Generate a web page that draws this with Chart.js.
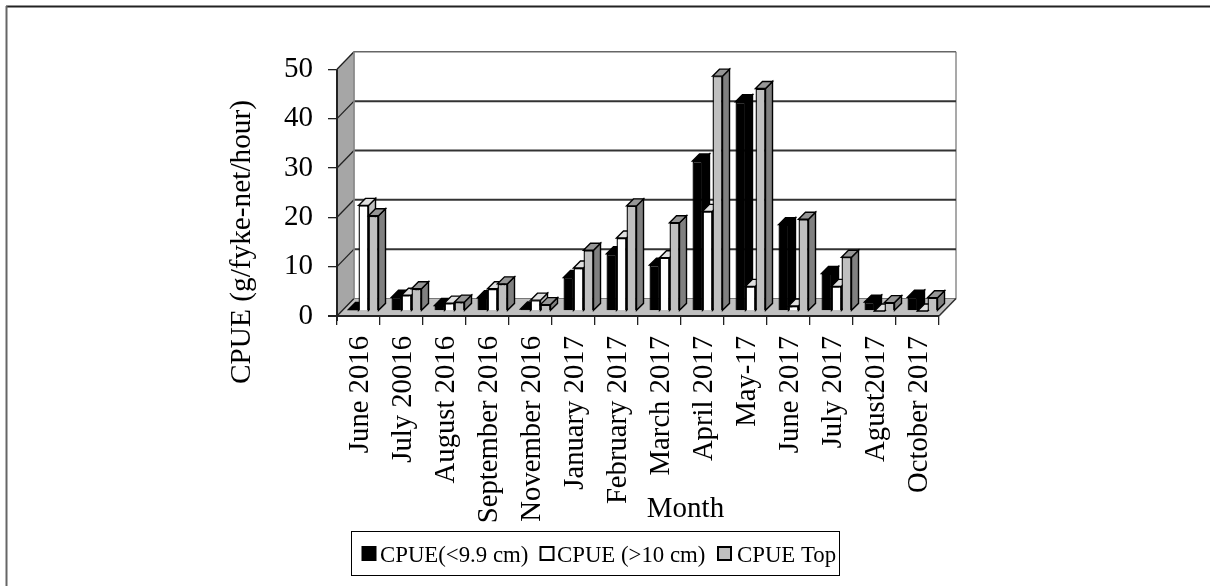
<!DOCTYPE html>
<html>
<head>
	<script src="https://cdn.jsdelivr.net/npm/chart.js@4"></script>
</head>
<body style="margin:0;background:#fff;">
	<canvas id="cpueChart" style="display:block;"></canvas>
</body>
</html>
<script>
	var months = ["June 2016","July 20016","August 2016","September 2016","November 2016","January 2017","February 2017","March 2017","April 2017","May-17","June 2017","July 2017","Agust2017","October 2017"];
	var cpueSmall = [0.3,2.8,1.1,2.7,0.4,6.8,11.6,9.3,30.4,42.4,17.5,7.6,1.8,2.8];
	var cpueLarge = [21.4,3.2,1.6,4.5,2.2,8.7,14.8,10.8,20.2,5,1,5,null,null];
	var cpueTop = [19.3,4.5,1.8,5.5,1.3,12.3,21.3,17.9,47.6,45.1,18.6,10.9,1.7,2.7];
	var seriesNames = ["CPUE(<9.9 cm)","CPUE (>10 cm)","CPUE Top"];
	var frontColors = ["#000000","#ffffff","#c0c0c0"];
	var topColors = ["#000000","#e0e0e0","#969696"];
	var sideColors = ["#000000","#c0c0c0","#808080"];

	var serif = "'Liberation Serif'";
	var wallX = 17, wallY = 17.5;	// depth of the box
	var shift = 5;					// bars stand a bit behind the front edge
	var barDepth = 7;

	function poly(ctx,pts,fill,stroke,lw){
		ctx.beginPath();
		ctx.moveTo(pts[0][0],pts[0][1]);
		for(var i = 1;i<pts.length;i++){
			ctx.lineTo(pts[i][0],pts[i][1]);
		}
		ctx.closePath();
		if(fill){
			ctx.fillStyle = fill;
			ctx.fill();
		}
		if(stroke){
			ctx.strokeStyle = stroke;
			ctx.lineWidth = lw;
			ctx.stroke();
		}
	}
	function line(ctx,x1,y1,x2,y2,color,lw){
		ctx.beginPath();
		ctx.moveTo(x1,y1);
		ctx.lineTo(x2,y2);
		ctx.strokeStyle = color;
		ctx.lineWidth = lw;
		ctx.stroke();
	}

	var box3d = {
		id:"box3d",
		beforeDatasetsDraw:function(chart){
			var ctx = chart.ctx;
			var xs = chart.scales.x, ys = chart.scales.y;
			var l = xs.left, r = xs.right;
			var y0 = ys.getPixelForValue(0), yMax = ys.getPixelForValue(50);
			ctx.save();
			// side wall and floor
			poly(ctx,[[l,y0],[l,yMax],[l+wallX,yMax-wallY],[l+wallX,y0-wallY]],"#a6a6a6","#777",1);
			poly(ctx,[[l,y0],[l+wallX,y0-wallY],[r+wallX,y0-wallY],[r,y0]],"#c0c0c0","#777",1);
			// back wall lines
			line(ctx,r+wallX,y0-wallY,r+wallX,yMax-wallY,"#8c8c8c",1.5);
			ys.ticks.forEach(function(t){
				var p = ys.getPixelForValue(t.value);
				if(t.value>0){
					line(ctx,l+wallX,p-wallY,r+wallX,p-wallY,t.value==50?"#666":"#333",t.value==50?1.5:2);
				}
				line(ctx,l,p,l+wallX,p-wallY,"#222",1.3);
			});
			line(ctx,l+wallX,y0-wallY,l+wallX,yMax-wallY,"#8c8c8c",1.5);
			line(ctx,r,y0,r+wallX,y0-wallY,"#333",1.5);
			// front edges
			line(ctx,l,y0+5,l,yMax,"#222",2);
			line(ctx,l-9,y0,r,y0,"#222",2.2);

			// bars left to right, each one covers the side of the one before
			var metas = [chart.getDatasetMeta(0),chart.getDatasetMeta(1),chart.getDatasetMeta(2)];
			for(var i = 0;i<months.length;i++){
				for(var d = 0;d<metas.length;d++){
					var el = metas[d].data[i];
					if(el.skip){
						continue;
					}
					var right = el.x+el.width/2+shift;
					var left = el.x-el.width/2+shift;
					var top = el.y-shift;
					var bottom = el.base-shift;
					poly(ctx,[[right,bottom],[right+barDepth,bottom-barDepth],[right+barDepth,top-barDepth],[right,top]],sideColors[d],"#000",1.4);
					poly(ctx,[[left,top],[left+barDepth,top-barDepth],[right+barDepth,top-barDepth],[right,top]],topColors[d],"#000",1.4);
					ctx.save();
					ctx.translate(shift,-shift);
					el.draw(ctx);
					ctx.restore();
				}
			}
			ctx.restore();
			return false;
		},
		afterDraw:function(chart){
			var ctx = chart.ctx;
			ctx.save();
			// outer frame, only top and left are in the picture
			line(ctx,6,6.5,1210,6.5,"#222",2);
			line(ctx,6.5,6,6.5,586,"#666",2);
			// axis titles
			ctx.fillStyle = "#000";
			ctx.font = "29px "+serif;
			ctx.textAlign = "center";
			ctx.textBaseline = "alphabetic";
			ctx.fillText("Month",685.5,517);
			ctx.save();
			ctx.translate(250,242);
			ctx.rotate(-Math.PI/2);
			ctx.font = "29.3px "+serif;
			ctx.fillText("CPUE (g/fyke-net/hour)",0,0);
			ctx.restore();
			// legend box
			ctx.strokeStyle = "#000";
			ctx.lineWidth = 1;
			ctx.strokeRect(351.5,531.5,488,44);
			var swatchX = [362.5,540.5,718];
			var textX = [380,557,737];
			ctx.font = "22.8px "+serif;
			ctx.textAlign = "left";
			for(var i = 0;i<seriesNames.length;i++){
				poly(ctx,[[swatchX[i],547],[swatchX[i]+13,547],[swatchX[i]+13,560],[swatchX[i],560]],frontColors[i],"#000",2);
				ctx.fillStyle = "#000";
				ctx.fillText(seriesNames[i],textX[i],562);
			}
			ctx.restore();
		}
	};

	function barSet(i,values){
		return {
			label:seriesNames[i],
			data:values,
			backgroundColor:frontColors[i],
			borderColor:"#000",
			borderWidth:1.4,
			categoryPercentage:0.698,
			barPercentage:1
		};
	}

	var canvas = document.getElementById("cpueChart");
	canvas.width = 1210;
	canvas.height = 586;
	new Chart(canvas.getContext("2d"),{
		type:"bar",
		data:{
			labels:months,
			datasets:[barSet(0,cpueSmall),barSet(1,cpueLarge),barSet(2,cpueTop)]
		},
		options:{
			responsive:false,
			animation:false,
			layout:{padding:{left:0,top:69.3,right:271,bottom:0}},
			plugins:{legend:{display:false},tooltip:{enabled:false}},
			scales:{
				x:{
					afterFit:function(s){s.height = 270;},
					border:{display:false},
					grid:{drawOnChartArea:false,drawTicks:true,tickLength:9,color:"#222",lineWidth:1.3},
					ticks:{color:"#000",font:{family:serif,size:28.7},minRotation:90,maxRotation:90,padding:11,labelOffset:2,autoSkip:false}
				},
				y:{
					min:0,
					max:50,
					afterFit:function(s){s.width = 337;},
					border:{display:false},
					grid:{drawOnChartArea:false,drawTicks:true,tickLength:9,color:"#222",lineWidth:1.3},
					ticks:{color:"#000",font:{family:serif,size:29},stepSize:10,padding:15}
				}
			}
		},
		plugins:[box3d]
	});
</script>
